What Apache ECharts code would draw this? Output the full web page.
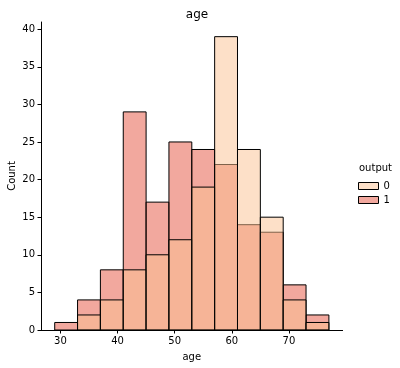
<!DOCTYPE html>
<html><head><meta charset="utf-8">
<script src="https://cdn.jsdelivr.net/npm/echarts@6/dist/echarts.min.js"></script>
<style>html,body{margin:0;padding:0;background:#fff}#c{width:400px;height:368px}</style>
</head><body><div id="c"></div>
<script>
const binEdges = [29,33,37,41,45,49,53,57,61,65,69,73,77];
const counts0 = [0,2,4,8,10,12,19,39,24,15,4,1];
const counts1 = [1,4,8,29,17,25,24,22,14,13,6,2];
const xTicks = [30,40,50,60,70];
const yTicks = [0,5,10,15,20,25,30,35,40];
const hueLevels = ['0','1'];

const col0 = 'rgba(251,193,145,0.5)';
const col1 = 'rgba(229,81,61,0.5)';

function mk(counts){
  const d=[];
  for(let i=0;i<counts.length;i++){ if(counts[i]>0) d.push([binEdges[i],binEdges[i+1],counts[i]]); }
  return d;
}
function render(params, api){
  const p0 = api.coord([api.value(0), api.value(2)]);
  const p1 = api.coord([api.value(1), 0]);
  return {type:'rect', shape:{x:p0[0], y:p0[1], width:p1[0]-p0[0], height:p1[1]-p0[1]},
    style:{fill:api.visual('color'), stroke:'#000', lineWidth:1}};
}
const fontF = 'DejaVu Sans';
const chart = echarts.init(document.getElementById('c'));
chart.setOption({
  animation:false,
  textStyle:{fontFamily:fontF},
  title:{text:'age', left:192, top:4, textAlign:'center', textStyle:{fontFamily:fontF,fontSize:12,fontWeight:'normal',color:'#000'}},
  grid:{left:41,right:57.4,top:22,bottom:38,containLabel:false,outerBoundsMode:'none'},
  xAxis:{type:'value',min:26.6,max:79.4,name:'age',nameLocation:'middle',nameGap:22,nameMoveOverlap:false,
    nameTextStyle:{fontFamily:fontF,fontSize:10,color:'#000'},
    axisLine:{show:true,lineStyle:{color:'#000',width:1}},
    axisTick:{show:true,length:3.5,lineStyle:{color:'#000'},customValues:xTicks},
    axisLabel:{fontFamily:fontF,fontSize:10,color:'#000',margin:6,customValues:xTicks},
    splitLine:{show:false}},
  yAxis:{type:'value',min:0,max:40.95,name:'Count',nameLocation:'middle',nameGap:24,nameRotate:90,nameMoveOverlap:false,
    nameTextStyle:{fontFamily:fontF,fontSize:10,color:'#000'},
    axisLine:{show:true,lineStyle:{color:'#000',width:1}},
    axisTick:{show:true,length:3.5,lineStyle:{color:'#000'},customValues:yTicks},
    axisLabel:{fontFamily:fontF,fontSize:10,color:'#000',margin:6,customValues:yTicks},
    splitLine:{show:false}},
  legend:{orient:'vertical',left:358,top:181,padding:0,itemWidth:20,itemHeight:7,itemGap:4,
    textStyle:{fontFamily:fontF,fontSize:10,color:'#000'},
    data:[{name:hueLevels[0],icon:'rect',itemStyle:{color:'#fde0c8',borderColor:'#000',borderWidth:1}},
          {name:hueLevels[1],icon:'rect',itemStyle:{color:'#f2a89e',borderColor:'#000',borderWidth:1}}]},
  graphic:[{type:'text',left:359,top:163,style:{text:'output',font:'10px "DejaVu Sans"',fill:'#000'}}],
  series:[
    {type:'custom',name:hueLevels[1],renderItem:render,itemStyle:{color:col1},encode:{x:[0,1],y:2},data:mk(counts1),z:2},
    {type:'custom',name:hueLevels[0],renderItem:render,itemStyle:{color:col0},encode:{x:[0,1],y:2},data:mk(counts0),z:3}
  ]
});
</script></body></html>
